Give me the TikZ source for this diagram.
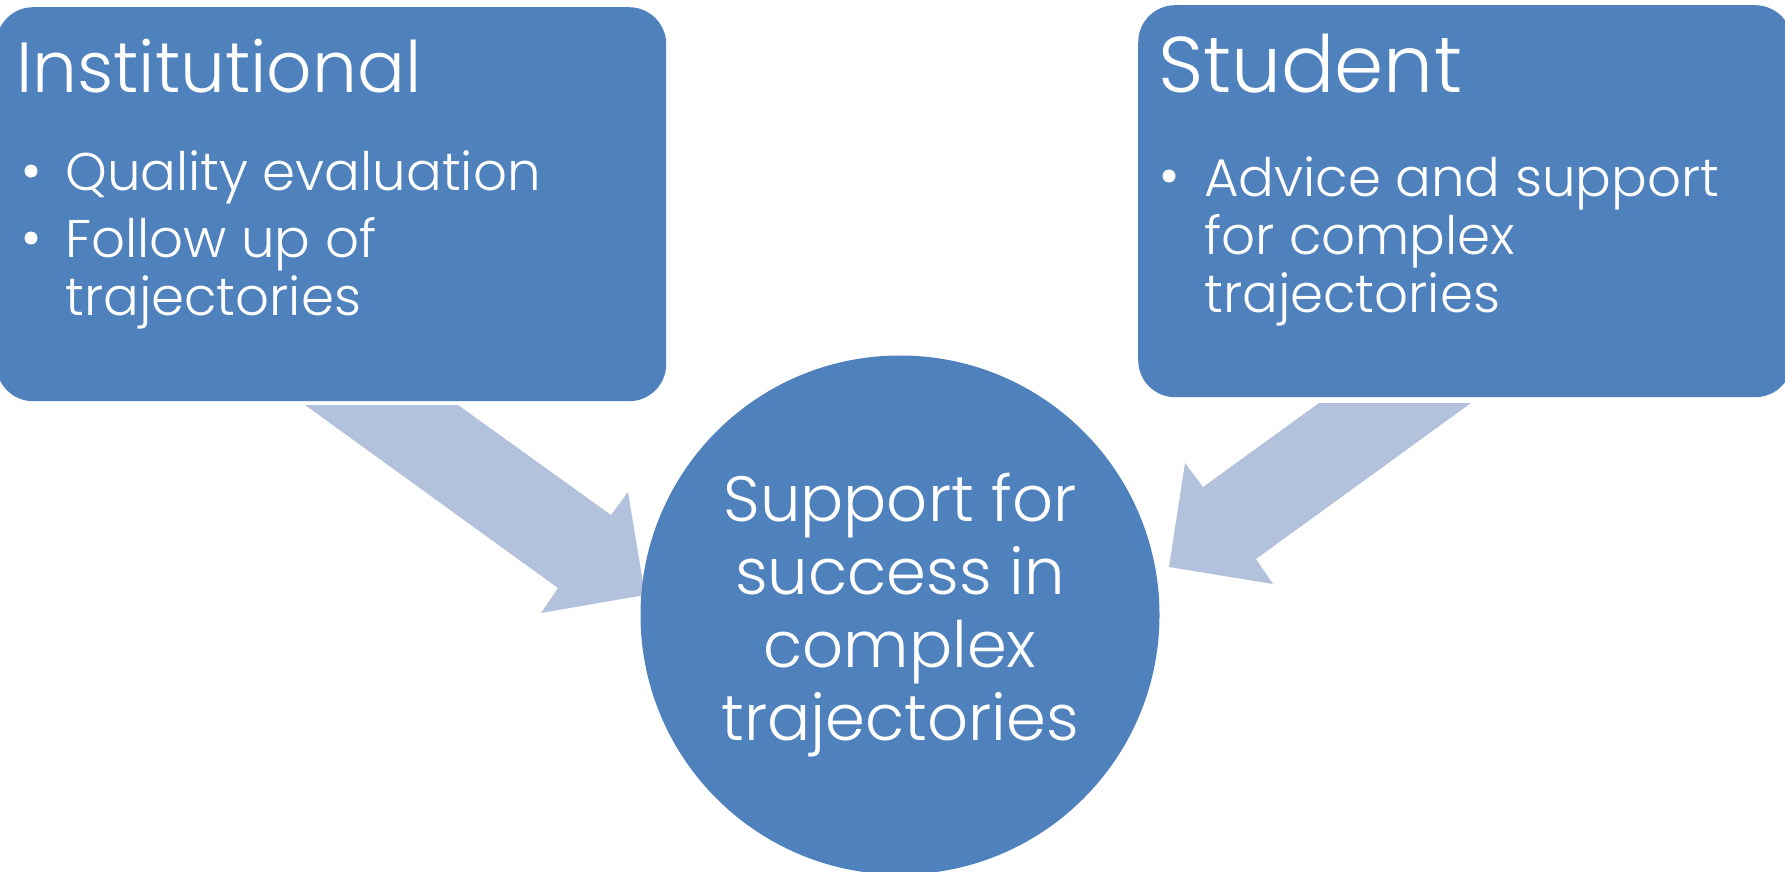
\documentclass[tikz,border=0pt]{standalone}
\usepackage{fontspec}
\setmainfont{Poppins Light}
\usetikzlibrary{positioning}
\definecolor{boxblue}{RGB}{79,129,189}
\definecolor{arrowblue}{RGB}{179,194,220}
\tikzset{
  box/.style={rectangle, rounded corners=37pt, fill=boxblue, inner sep=0pt},
  hub/.style={circle, fill=boxblue, inner sep=0pt, minimum size=519pt,
    text=white, align=center, font=\fontsize{64}{73}\selectfont},
  headline/.style={anchor=base west, text=white, inner sep=0pt},
  item/.style={anchor=base west, text=white, inner sep=0pt, align=left,
    font=\fontsize{53}{58}\selectfont},
  dot/.style={circle, fill=white, inner sep=0pt, minimum size=13pt},
  bigarrow/.style={fill=arrowblue}
}

\begin{document}
\begin{tikzpicture}[x=1pt,y=-1pt]
\useasboundingbox (0,0) rectangle (1785,872);
% the two boxes
\node[box, anchor=north west, minimum width=670pt, minimum height=394pt] (inst) at (-4,7) {};
\node[box, anchor=north west, minimum width=654pt, minimum height=392pt] (stud) at (1138,5) {};
% block arrows into the circle
\fill[bigarrow] (305,405) -- (458,405) -- (611,515) -- (628,492) -- (645,595) -- (541,613) -- (558,588) -- cycle;
\fill[bigarrow] (1471,403) -- (1319,403) -- (1203,487) -- (1185,463) -- (1169,567) -- (1273,584) -- (1256,559) -- cycle;
% centre
\node[hub] (goal) at (900,615) {Support for\\success in\\complex\\trajectories};
% left box text (multi-line nodes sit on their last baseline)
\node[headline, font=\fontsize{71}{74}\selectfont] (insttitle) at (16,93) {Institutional};
\node[dot] (dota) at (31,171) {};
\node[item] (quality) at (65,190) {Quality evaluation};
\node[dot] (dotb) at (31,238) {};
\node[item] (follow) at (65,315) {Follow up of\\trajectories};
% right box text
\node[headline, font=\fontsize{79}{82}\selectfont] (studtitle) at (1158,93) {Student};
\node[dot] (dotc) at (1169,176) {};
\node[item] (advice) at (1204,312) {Advice and support\\for complex\\trajectories};
\end{tikzpicture}
\end{document}
